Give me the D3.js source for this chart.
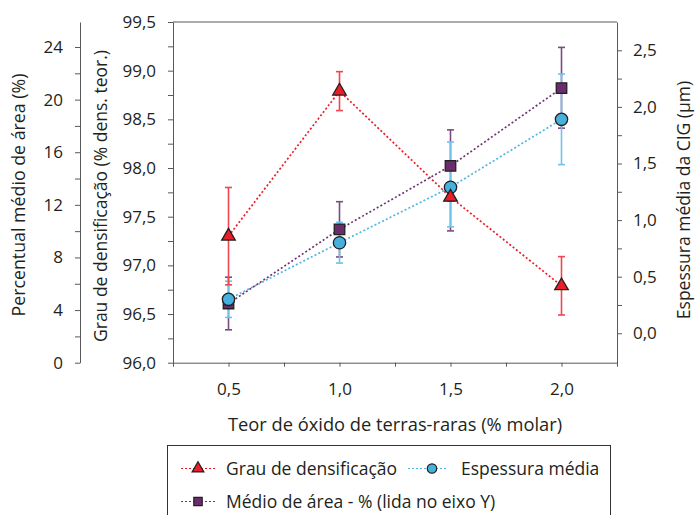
<!DOCTYPE html>
<html>
<head>
<meta charset="utf-8">
<script src="https://cdn.jsdelivr.net/npm/d3@7"></script>
<style>
  body { margin: 0; background: #fff; }
  #container { width: 696px; height: 515px; }
  text { font-family: "Open Sans", Lato, sans-serif; fill: #231f20; }
</style>
</head>
<body>
<div id="container"></div>
<script>
// teor de óxido (% molar)
const teor = [0.5, 1.0, 1.5, 2.0];

// grau de densificação (% dens. teor.) - eixo do meio
const densidade = [97.30, 98.79, 97.70, 96.79];
const densErro = [0.50, 0.20, 0.04, 0.30];

// espessura média da CIG (µm) - eixo direito
const espessura = [0.30, 0.80, 1.29, 1.89];
const espErroSup = [0.16, 0.18, 0.40, 0.40];
const espErroInf = [0.16, 0.18, 0.35, 0.40];

// médio de área (%) - eixo esquerdo
const area = [4.5, 10.14, 14.96, 20.87];
const areaErroSup = [2.0, 2.1, 2.74, 3.1];
const areaErroInf = [2.0, 2.1, 4.94, 3.04];

const xTicks = d3.range(0.25, 2.26, 0.25);
const densTicks = d3.range(96, 99.51, 0.25);
const areaTicks = d3.range(0, 24.1, 2);
const espTicks = d3.range(0, 2.51, 0.25);

const W = 696, H = 515;
const pLeft = 173, pRight = 617, pTop = 22, pBottom = 362.7;

const svg = d3.create("svg")
    .attr("width", W)
    .attr("height", H)
    .attr("viewBox", `0 0 ${W} ${H}`)
    .attr("xmlns", "http://www.w3.org/2000/svg");

const x = d3.scaleLinear().domain([0.25, 2.25]).range([pLeft, pRight]);
const yDens = d3.scaleLinear().domain([96, 99.5]).range([pBottom, pTop]);
const yArea = d3.scaleLinear().domain([0, 25.9]).range([pBottom, pTop]);
const yEsp = d3.scaleLinear().domain([-0.26, 2.75]).range([pBottom, pTop]);

const comma = v => d3.format(".1f")(v).replace(".", ",");
const isHalf = v => Math.abs(v * 2 - Math.round(v * 2)) < 1e-6;

const axisColor = "#58595b";
const fs = 17;

function styleAxis(g) {
    g.selectAll("path, line").attr("stroke", axisColor).attr("stroke-width", 1);
    g.selectAll("text").attr("font-size", fs).attr("fill", "#231f20")
        .attr("font-family", "'Open Sans', Lato, sans-serif");
}

// top frame line
svg.append("line")
    .attr("x1", pLeft).attr("x2", pRight).attr("y1", pTop).attr("y2", pTop)
    .attr("stroke", axisColor);

// x axis
svg.append("g")
    .attr("transform", `translate(0,${pBottom})`)
    .call(d3.axisBottom(x).tickValues(xTicks).tickSize(4).tickSizeOuter(0).tickPadding(16)
        .tickFormat(v => (isHalf(v) ? comma(v) : "")))
    .call(styleAxis);

// eixo do meio
svg.append("g")
    .attr("transform", `translate(${pLeft},0)`)
    .call(d3.axisLeft(yDens).tickValues(densTicks).tickSize(5).tickSizeOuter(0).tickPadding(12)
        .tickFormat(v => (isHalf(v) ? comma(v) : "")))
    .call(styleAxis);

// eixo esquerdo
svg.append("g")
    .attr("transform", `translate(80,0)`)
    .call(d3.axisLeft(yArea).tickValues(areaTicks).tickSize(5).tickSizeOuter(0).tickPadding(12)
        .tickFormat(v => (v % 4 === 0 ? v : "")))
    .call(styleAxis);

// eixo direito
svg.append("g")
    .attr("transform", `translate(${pRight},0)`)
    .call(d3.axisRight(yEsp).tickValues(espTicks).tickSize(5).tickSizeOuter(0).tickPadding(11)
        .tickFormat(v => (isHalf(v) ? comma(v) : "")))
    .call(styleAxis);

// axis titles
svg.append("text")
    .attr("transform", "translate(25,195) rotate(-90)")
    .attr("text-anchor", "middle").attr("font-size", 17.8)
    .text("Percentual médio de área (%)");
svg.append("text")
    .attr("transform", "translate(107,196) rotate(-90)")
    .attr("text-anchor", "middle").attr("font-size", 17.5)
    .text("Grau de densificação (% dens. teor.)");
svg.append("text")
    .attr("transform", "translate(690,200) rotate(-90)")
    .attr("text-anchor", "middle").attr("font-size", 17.5)
    .text("Espessura média da CIG (µm)");
svg.append("text")
    .attr("x", 395).attr("y", 431)
    .attr("text-anchor", "middle").attr("font-size", 18.3)
    .text("Teor de óxido de terras-raras (% molar)");

const series = [
    { nome: "area", y: yArea, v: area, up: areaErroSup, dn: areaErroInf,
      line: "#6e3573", err: "#7b4a80", fill: "#6a2c6c", sym: d3.symbolSquare, size: 110 },
    { nome: "esp", y: yEsp, v: espessura, up: espErroSup, dn: espErroInf,
      line: "#4fb5e3", err: "#6ec3ea", fill: "#47b1de", sym: d3.symbolCircle, size: 120 },
    { nome: "dens", y: yDens, v: densidade, up: densErro, dn: densErro,
      line: "#ed1c24", err: "#ef4652", fill: "#e81e28", sym: d3.symbolTriangle, size: 80 }
];

// error bars
series.forEach(s => {
    const g = svg.append("g").attr("stroke", s.err).attr("stroke-width", 1.6);
    teor.forEach((t, i) => {
        const cx = x(t), y1 = s.y(s.v[i] + s.up[i]), y2 = s.y(s.v[i] - s.dn[i]);
        g.append("line").attr("x1", cx).attr("x2", cx).attr("y1", y1).attr("y2", y2);
        g.append("line").attr("x1", cx - 3.5).attr("x2", cx + 3.5).attr("y1", y1).attr("y2", y1);
        g.append("line").attr("x1", cx - 3.5).attr("x2", cx + 3.5).attr("y1", y2).attr("y2", y2);
    });
});

// dotted lines
series.forEach(s => {
    const line = d3.line().x((d, i) => x(teor[i])).y(d => s.y(d));
    svg.append("path")
        .datum(s.v)
        .attr("d", line)
        .attr("fill", "none")
        .attr("stroke", s.line)
        .attr("stroke-width", 1.7)
        .attr("stroke-dasharray", "2,2.2");
});

// markers
series.forEach(s => {
    svg.append("g").selectAll("path")
        .data(s.v)
        .join("path")
        .attr("d", d3.symbol(s.sym, s.size))
        .attr("transform", (d, i) => `translate(${x(teor[i])},${s.y(d)})`)
        .attr("fill", s.fill)
        .attr("stroke", "#231f20")
        .attr("stroke-width", 1.3);
});

// legend
const lg = svg.append("g");
lg.append("rect")
    .attr("x", 167.5).attr("y", 445.5).attr("width", 443).attr("height", 80)
    .attr("fill", "none").attr("stroke", "#333").attr("stroke-width", 1);

const legendItems = [
    { s: series[2], label: "Grau de densificação", x1: 181, x2: 215, mx: 198, tx: 226, y0: 468.5, size: 60 },
    { s: series[1], label: "Espessura média", x1: 408, x2: 447, mx: 432, tx: 461, y0: 468.5, size: 70 },
    { s: series[0], label: "Médio de área - % (lida no eixo Y)", x1: 181, x2: 215, mx: 198, tx: 226, y0: 501.5, size: 70 }
];
legendItems.forEach(it => {
    lg.append("line")
        .attr("x1", it.x1).attr("x2", it.x2).attr("y1", it.y0).attr("y2", it.y0)
        .attr("stroke", it.s.line).attr("stroke-width", 1.2).attr("stroke-dasharray", "2,2");
    lg.append("path")
        .attr("d", d3.symbol(it.s.sym, it.size))
        .attr("transform", `translate(${it.mx},${it.y0})`)
        .attr("fill", it.s.fill).attr("stroke", "#231f20").attr("stroke-width", 1.2);
    lg.append("text")
        .attr("x", it.tx).attr("y", it.y0 + 6)
        .attr("font-size", 17.5)
        .text(it.label);
});

document.getElementById("container").append(svg.node());
</script>
</body>
</html>
